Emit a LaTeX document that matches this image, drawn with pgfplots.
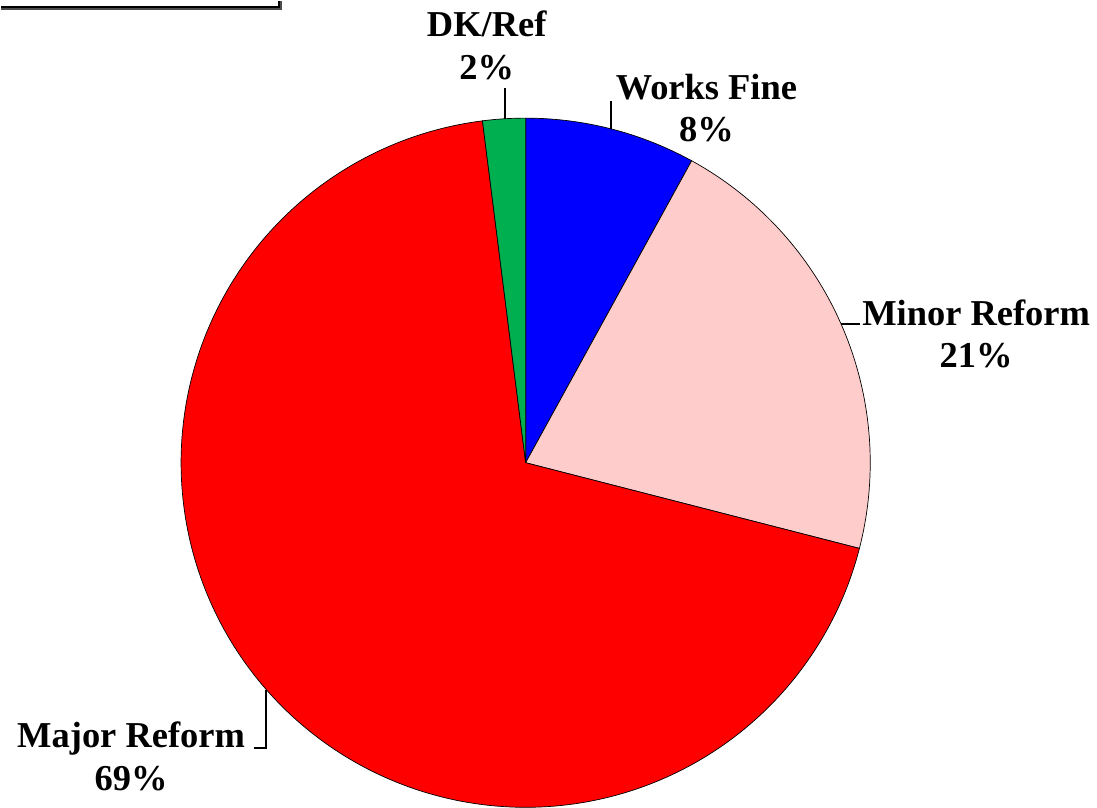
\documentclass[border=0pt]{standalone}
\usepackage{pgfplots}
\pgfplotsset{compat=1.18}
\usepackage{fontspec}
\setmainfont{Liberation Serif}
\definecolor{wf}{RGB}{0,0,255}
\definecolor{minr}{RGB}{255,204,204}
\definecolor{majr}{RGB}{255,0,0}
\definecolor{dk}{RGB}{0,176,80}
\begin{document}
% Shares: Works Fine 8, Minor Reform 21, Major Reform 69, DK/Ref 2 (start at 90 deg, clockwise)
% Angles: WF 90..61.2, Minor 61.2..-14.4, Major -14.4..-262.8 (=345.6..97.2), DK 97.2..90
\begin{tikzpicture}
\begin{axis}[
  width=1097pt, height=807pt, scale only axis,
  xmin=0, xmax=1097, ymin=0, ymax=807,
  hide axis, clip=false,
  every axis plot/.append style={line width=0.7pt},
]
% corners (bounding box)
\addplot[draw=none] coordinates {(0,0) (1097,807)};
% slices
\addplot[fill=wf, draw=black, variable=t, samples at={-1000,61.2,62.2,...,89.2,90,1000}]
  ({525+(abs(t)<500)*345*cos(t)},{345+(abs(t)<500)*345*sin(t)});
\addplot[fill=minr, draw=black, variable=t, samples at={-1000,-14.4,-13.4,...,60.6,61.2,1000}]
  ({525+(abs(t)<500)*345*cos(t)},{345+(abs(t)<500)*345*sin(t)});
\addplot[fill=majr, draw=black, variable=t, samples at={-1000,97.2,98.2,...,345.2,345.6,1000}]
  ({525+(abs(t)<500)*345*cos(t)},{345+(abs(t)<500)*345*sin(t)});
\addplot[fill=dk, draw=black, variable=t, samples at={-1000,90,91,...,97,97.2,1000}]
  ({525+(abs(t)<500)*345*cos(t)},{345+(abs(t)<500)*345*sin(t)});
% leader lines
\addplot[black, line width=2pt] coordinates {(504,720) (504,689)};
\addplot[black, line width=2pt] coordinates {(610,707) (610,679)};
\addplot[black, line width=2pt] coordinates {(841,484) (860,484)};
\addplot[black, line width=2pt] coordinates {(253,59) (265,59) (265,117)};
% top-left box remnant
\addplot[black!70, line width=2pt] coordinates {(0,799.5) (280,799.5) (280,807)};
\addplot[black, line width=2.5pt] coordinates {(0,801) (278,801) (278,807)};
% labels
\tikzset{lab/.style={anchor=base, inner sep=0pt, font=\fontsize{36.5}{42}\selectfont\bfseries}}
\node[lab] at (axis cs:486,772) {DK/Ref};
\node[lab] at (axis cs:486,729) {2\%};
\node[lab] at (axis cs:706,709) {Works Fine};
\node[lab] at (axis cs:706,667) {8\%};
\node[lab] at (axis cs:976,482) {Minor Reform};
\node[lab] at (axis cs:976,440) {21\%};
\node[lab] at (axis cs:130,60) {Major Reform};
\node[lab] at (axis cs:130,17) {69\%};
\end{axis}
\end{tikzpicture}
\end{document}
